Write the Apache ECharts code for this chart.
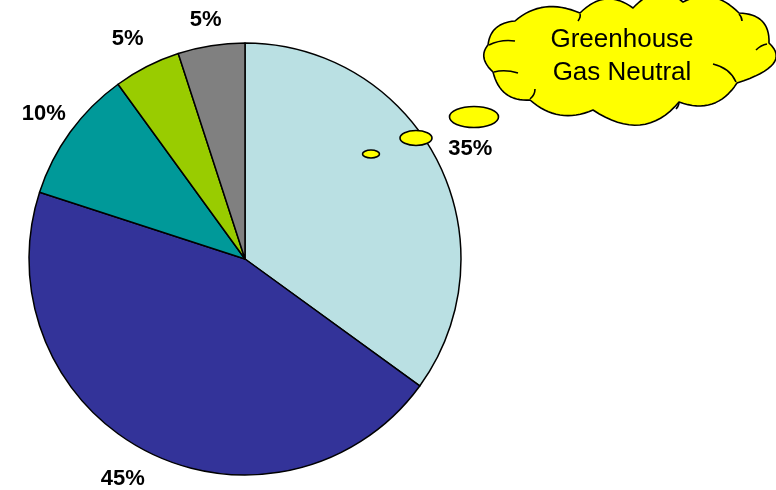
<!DOCTYPE html>
<html><head><meta charset="utf-8">
<script src="https://cdn.jsdelivr.net/npm/echarts@6/dist/echarts.min.js"></script>
<style>html,body{margin:0;padding:0;background:#fff}#c{width:776px;height:490px}</style>
</head><body><div id="c"></div>
<script>
const categories = ['A', 'B', 'C', 'D', 'E'];
const values = [35, 45, 10, 5, 5];
const labels = ['35%', '45%', '10%', '5%', '5%'];
const colors = ['#BAE0E3', '#333399', '#009999', '#99CC00', '#808080'];
const calloutLines = ['Greenhouse', 'Gas Neutral'];
// label nudges (style only)
const labelOffsets = [[7, 1], [-11, 2], [-3, -1], [-6, -2], [-1, 3]];

const chart = echarts.init(document.getElementById('c'));
const data = categories.map((c, i) => ({ name: c, value: values[i], itemStyle: { color: colors[i] } }));
const labelData = categories.map((c, i) => ({ name: c, value: values[i], label: { formatter: labels[i], offset: labelOffsets[i] } }));

// cloud outline: valleys and bump peaks (quadratic bulges sampled into a polygon)
const valleys = [[488,45],[515,21],[580,13],[633,8],[683,2],[739,13],[769,43],[737,83],[679,102],[593,110],[530,100],[493,72]];
const peaks   = [[496,28],[545,7],[606,-1],[658,-7],[712,-3],[762,21],[773,64],[712,104],[640,125],[560,115],[506,94],[484,58]];
const pts = [];
for (let i = 0; i < valleys.length; i++) {
  const a = valleys[i], b = valleys[(i + 1) % valleys.length], p = peaks[i];
  const c = [2 * p[0] - (a[0] + b[0]) / 2, 2 * p[1] - (a[1] + b[1]) / 2];
  for (let k = 0; k < 16; k++) {
    const t = k / 16, u = 1 - t;
    pts.push([u * u * a[0] + 2 * u * t * c[0] + t * t * b[0], u * u * a[1] + 2 * u * t * c[1] + t * t * b[1]]);
  }
}
const hooks = [
  [489,45,501,39,515,41], [494,72,505,69,518,73], [530,99,535,95,535,89],
  [580,14,581,17,578,21], [739,14,742,17,742,21], [767,44,761,45,756,50],
  [736,82,730,68,713,64], [679,102,679,106,676,109]
];
const yellow = '#FFFF00';
const els = [];
els.push({ type: 'polygon', z: 100, silent: true, shape: { points: pts }, style: { fill: yellow, stroke: '#000', lineWidth: 1.6, lineJoin: 'round' } });
hooks.forEach(h => els.push({ type: 'bezierCurve', z: 101, silent: true, shape: { x1: h[0], y1: h[1], cpx1: h[2], cpy1: h[3], x2: h[4], y2: h[5] }, style: { fill: null, stroke: '#000', lineWidth: 1.6 } }));
const bubbles = [[474, 117, 24.5, 10.5], [416, 138, 16, 7.5], [371, 154, 8.5, 4]];
bubbles.forEach(b => els.push({ type: 'ellipse', z: 100, silent: true, shape: { cx: b[0], cy: b[1], rx: b[2], ry: b[3] }, style: { fill: yellow, stroke: '#000', lineWidth: 1.6 } }));
els.push({ type: 'text', z: 102, x: 622, y: 56, silent: true, style: { text: calloutLines.join('\n'), fill: '#000', font: '26px "Liberation Sans", Arial, sans-serif', align: 'center', verticalAlign: 'middle', lineHeight: 33 } });

chart.setOption({
  animation: false,
  backgroundColor: '#fff',
  series: [
    {
      type: 'pie', center: [245, 259], radius: [0, 216], startAngle: 90, clockwise: true,
      label: { show: false }, labelLine: { show: false }, silent: true,
      itemStyle: { borderColor: '#000', borderWidth: 1.5 },
      data: data
    },
    {
      type: 'pie', center: [245, 259], radius: [222, 262], startAngle: 90, clockwise: true,
      silent: true, itemStyle: { color: 'rgba(0,0,0,0)', borderWidth: 0 },
      label: { show: true, position: 'inside', color: '#000', fontSize: 22, fontWeight: 'bold', fontFamily: '"Liberation Sans", Arial, sans-serif' },
      labelLine: { show: false },
      data: labelData
    }
  ],
  graphic: { elements: els }
});
</script></body></html>
